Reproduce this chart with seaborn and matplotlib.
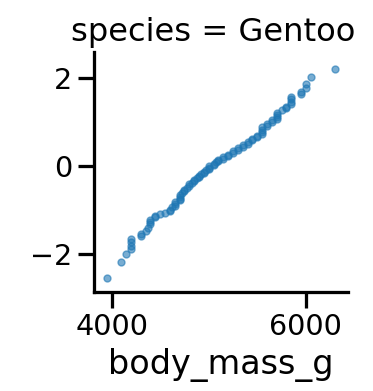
import matplotlib
matplotlib.use("Agg")
import matplotlib.pyplot as plt
import seaborn as sns
import pandas as pd

# Ordered Gentoo body masses (g) and their normal quantiles
body_mass_g = [
    3950, 4100, 4150, 4200, 4200, 4200, 4200, 4300, 4300, 4350,
    4375, 4400, 4400, 4400, 4450, 4450, 4500, 4550, 4600, 4600,
    4625, 4650, 4650, 4650, 4700, 4700, 4700, 4700, 4725, 4750,
    4750, 4775, 4800, 4800, 4825, 4850, 4850, 4875, 4900, 4900,
    4925, 4950, 4950, 4975, 5000, 5000, 5000, 5050, 5050, 5075,
    5100, 5100, 5150, 5150, 5200, 5200, 5250, 5250, 5300, 5300,
    5350, 5350, 5400, 5400, 5450, 5450, 5500, 5500, 5550, 5550,
    5550, 5550, 5600, 5600, 5650, 5650, 5700, 5700, 5700, 5700,
    5750, 5800, 5800, 5850, 5850, 5850, 5850, 5950, 5950, 6000,
    6000, 6050, 6300,
]
quantiles = [
    -2.55, -2.19, -2.00, -1.88, -1.81, -1.74, -1.67, -1.60, -1.55, -1.47,
    -1.40, -1.33, -1.28, -1.23, -1.17, -1.13, -1.10, -1.06, -1.03, -0.99,
    -0.94, -0.90, -0.86, -0.82, -0.78, -0.74, -0.70, -0.66, -0.62, -0.58,
    -0.54, -0.50, -0.46, -0.42, -0.38, -0.34, -0.31, -0.28, -0.25, -0.22,
    -0.19, -0.16, -0.13, -0.10, -0.07, -0.04, -0.01, 0.02, 0.05, 0.08,
    0.11, 0.14, 0.17, 0.20, 0.23, 0.26, 0.30, 0.33, 0.37, 0.40,
    0.44, 0.47, 0.51, 0.54, 0.58, 0.61, 0.65, 0.69, 0.73, 0.78,
    0.83, 0.88, 0.92, 0.96, 1.00, 1.04, 1.08, 1.12, 1.16, 1.20,
    1.27, 1.31, 1.35, 1.40, 1.46, 1.52, 1.58, 1.63, 1.69, 1.78,
    1.86, 2.02, 2.21,
]
species = ["Gentoo"] * len(body_mass_g)

df = pd.DataFrame({"species": species, "body_mass_g": body_mass_g, "q": quantiles})

sns.set_context("talk")
dpi = 125
fig = plt.figure(figsize=(373 / dpi, 391 / dpi), dpi=dpi)
ax = fig.add_axes([94 / 373, 1 - 291.7 / 391, (348 - 94) / 373, (291.7 - 51.7) / 391])

sns.scatterplot(data=df, x="body_mass_g", y="q", ax=ax, s=16, alpha=0.6,
                color="#1f77b4", edgecolor="#1f77b4", linewidth=0.8)
sns.despine(ax=ax)
ax.set_xlim(3818, 6435)
ax.set_ylim(-2.86, 2.60)
ax.set_xticks([4000, 6000])
ax.set_yticks([-2, 0, 2])
ax.set_xlabel("body_mass_g", fontsize=19.2)
ax.set_ylabel("")
ax.set_title("species = Gentoo", fontsize=18.5, x=0.47)

fig.savefig("out.png", dpi=dpi)
